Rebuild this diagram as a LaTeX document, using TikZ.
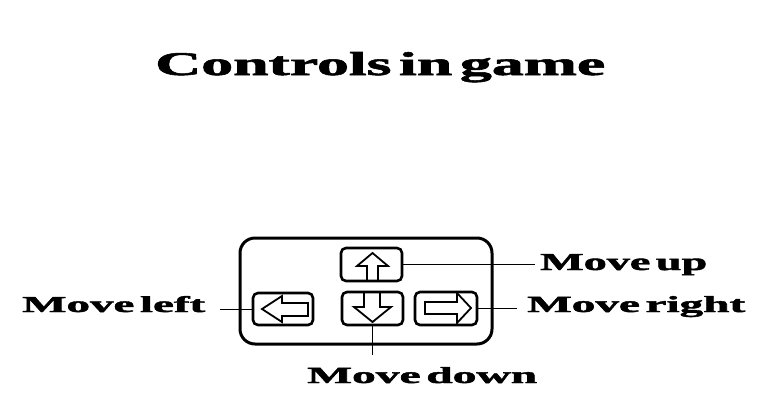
\documentclass[tikz,border=0pt]{standalone}
\usepackage{fontspec}
\setmainfont{Liberation Serif}
\newfontfamily\heavyfont{Liberation Serif}[BoldFeatures={FakeBold=1.6}]
\usepackage{graphicx}
\newcommand{\wgap}{\hspace{0.12em}}
\newcommand{\fitlbl}[3]{\resizebox{#1}{#2}{\heavyfont\bfseries #3}}
\begin{document}
\begin{tikzpicture}[x=1pt,y=-1pt,
  pad/.style={draw=black, line width=3pt, rounded corners=15pt, minimum width=252pt, minimum height=106pt, inner sep=0pt},
  keybtn/.style={draw=black, line width=2.6pt, rounded corners=5pt, inner sep=0pt},
  keyarrow/.style={draw=black, line width=1.8pt, line join=miter},
  lbl/.style={inner sep=0pt, anchor=base west},
  conn/.style={draw=black, line width=1pt}]
\useasboundingbox (0,0) rectangle (784,418);
\fill[white] (0,0) rectangle (784,418);

% title
\node[lbl] (title) at (155,75) {\fitlbl{450pt}{23pt}{Controls\wgap in\wgap game}};

% pad
\node[pad] (padbox) at (366,291) {};

% buttons
\node[keybtn, minimum width=61pt, minimum height=33pt] (bu) at (371.5,264.5) {};
\node[keybtn, minimum width=60pt, minimum height=32pt] (bl) at (283,309) {};
\node[keybtn, minimum width=61pt, minimum height=33pt] (bd) at (372.5,308.5) {};
\node[keybtn, minimum width=62pt, minimum height=33pt] (br) at (446,308.5) {};

% arrows inside buttons
\draw[keyarrow] (372.5,253) -- (357,266) -- (367,266) -- (367,281) -- (378,281) -- (378,266) -- (388,266) -- cycle;
\draw[keyarrow] (364,292) -- (364,307) -- (354,307) -- (372.5,322) -- (391,307) -- (380,307) -- (380,292) -- cycle;
\draw[keyarrow] (262,309) -- (282,296) -- (282,303) -- (308,303) -- (308,316) -- (282,316) -- (282,322) -- cycle;
\draw[keyarrow] (425,302) -- (457,302) -- (457,293) -- (471,308) -- (457,323) -- (457,314) -- (425,314) -- cycle;

% labels
\node[lbl] (lu) at (540,270) {\fitlbl{167pt}{16pt}{Move\wgap up}};
\node[lbl] (lr) at (527,312) {\fitlbl{218pt}{16pt}{Move\wgap right}};
\node[lbl] (ld) at (307,383) {\fitlbl{230pt}{16pt}{Move\wgap down}};
\node[lbl] (ll) at (22,312) {\fitlbl{183pt}{16pt}{Move\wgap left}};

% connectors
\draw[conn, shorten >=5pt] (bu.east) -- (bu.east -| lu.west);
\draw[conn, shorten >=10pt] (br.east) -- (br.east -| lr.west);
\draw[conn, shorten >=15pt] (bl.west) -- (bl.west -| ll.east);
\draw[conn, shorten >=12pt] (bd.south) -- (bd.south |- ld.north);
\end{tikzpicture}
\end{document}
